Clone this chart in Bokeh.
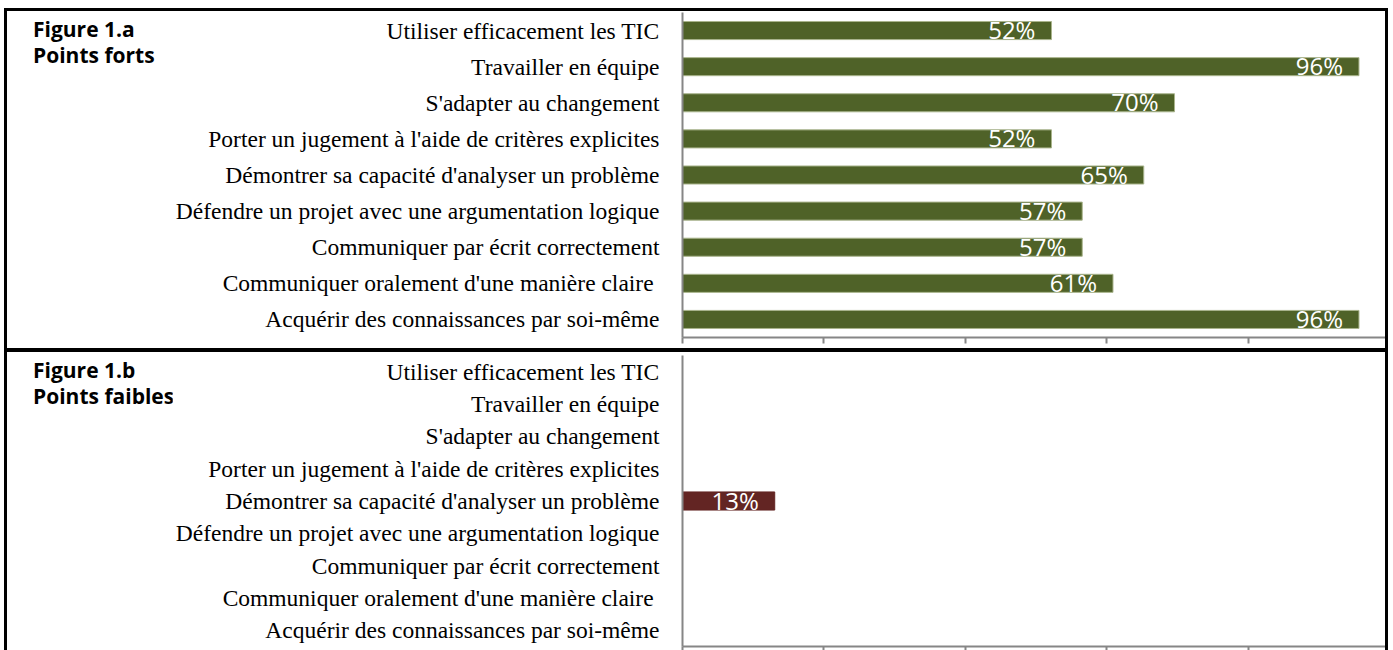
from bokeh.plotting import figure
from bokeh.layouts import column, row
from bokeh.models import (ColumnDataSource, LabelSet, FactorRange, Range1d,
                          FixedTicker, CustomJSTickFormatter, Div)
from bokeh.core.properties import value
from bokeh.embed import file_html
from bokeh.resources import INLINE

categories = [
    "Utiliser efficacement les TIC",
    "Travailler en équipe",
    "S'adapter au changement",
    "Porter un jugement à l'aide de critères explicites",
    "Démontrer sa capacité d'analyser un problème",
    "Défendre un projet avec une argumentation logique",
    "Communiquer par écrit correctement",
    "Communiquer oralement d'une manière claire ",
    "Acquérir des connaissances par soi-même",
]
strong_values = [52.17, 95.65, 69.57, 52.17, 65.22, 56.52, 56.52, 60.87, 95.65]
weak_values = [0, 0, 0, 0, 13.04, 0, 0, 0, 0]
x_ticks = [0, 20, 40, 60, 80]
panel_a_title = ["Figure 1.a", "Points forts"]
panel_b_title = ["Figure 1.b", "Points faibles"]

GREEN = "#4F6228"
RED = "#632523"
AXIS = "#868686"
DIV_W = 165
FIG_W = 1213
LEFT = 510


def make_panel(values, color, outline, height, top, bottom, bar_h, tick_len):
    p = figure(width=FIG_W, height=height,
               y_range=FactorRange(factors=list(reversed(categories))),
               x_range=Range1d(0, 99.4),
               output_backend="svg", toolbar_location=None,
               min_border_left=LEFT, min_border_right=0,
               min_border_top=top, min_border_bottom=bottom,
               outline_line_color=None, background_fill_color="white",
               border_fill_color="white")
    src = ColumnDataSource(dict(cat=categories, val=values))
    p.hbar(y="cat", right="val", left=0, height=bar_h, source=src,
           fill_color=color, line_color=outline, line_width=1)
    shown = [(c, v) for c, v in zip(categories, values) if v > 0]
    lsrc = ColumnDataSource(dict(cat=[c for c, v in shown], val=[v for c, v in shown],
                                 lab=["%d%%" % int(v + 0.5) for c, v in shown]))
    p.add_layout(LabelSet(x="val", y="cat", text="lab", source=lsrc, x_offset=-16,
                          y_offset=1, text_align="right", text_baseline="middle",
                          text_color="white", text_font=value("Open Sans"),
                          text_font_size=value("24px")))
    p.xgrid.visible = False
    p.ygrid.visible = False
    xa = p.xaxis[0]
    xa.ticker = FixedTicker(ticks=x_ticks)
    xa.formatter = CustomJSTickFormatter(code="return ''")
    xa.major_tick_out = tick_len
    xa.major_tick_in = 0
    xa.minor_tick_out = 0
    xa.minor_tick_in = 0
    xa.major_label_standoff = 0
    xa.axis_line_color = AXIS
    xa.axis_line_width = 2
    xa.major_tick_line_color = AXIS
    xa.major_tick_line_width = 2
    ya = p.yaxis[0]
    ya.major_tick_out = 0
    ya.major_tick_in = 0
    ya.axis_line_color = AXIS
    ya.axis_line_width = 2
    ya.major_label_standoff = 23
    ya.major_label_text_font = "Liberation Serif"
    ya.major_label_text_font_size = "23.5px"
    ya.major_label_text_color = "black"
    return p


def make_title(lines, height):
    html = ('<div style="font-family: \'Open Sans\'; font-weight: bold; font-size: 21px; '
            'line-height: 26px; padding-top: 5px; padding-left: 26px; color: black; '
            'white-space: nowrap;">' + "<br>".join(lines) + "</div>")
    return Div(text=html, width=DIV_W, height=height, margin=0)


pa = make_panel(strong_values, GREEN, "#A9B48C", 337, 1, 11, 0.5, 6)
ta = make_title(panel_a_title, 337)
pb = make_panel(weak_values, RED, RED, 298, 3, 4, 0.56, 4)
tb = make_title(panel_b_title, 298)

layout = column(row(ta, pa, spacing=0, styles={"border-bottom": "4px solid black"}),
                row(tb, pb, spacing=0), spacing=0,
                styles={"border-top": "3px solid black", "border-left": "3px solid black",
                        "border-right": "3px solid black", "margin-left": "4px",
                        "margin-top": "8px"})

open("out.html", "w").write(file_html(layout, INLINE))
